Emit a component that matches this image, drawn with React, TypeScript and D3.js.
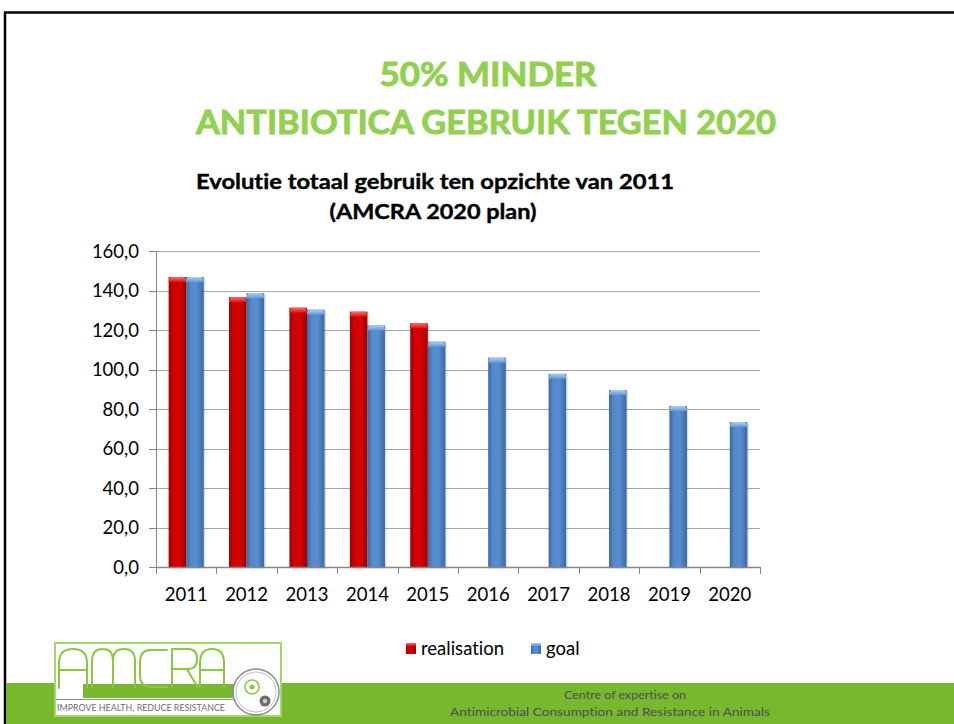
import React from "react";
import * as d3 from "d3";

const years = ["2011", "2012", "2013", "2014", "2015", "2016", "2017", "2018", "2019", "2020"];
const realisation: (number | null)[] = [146.8, 136.6, 131.3, 129.3, 123.4, null, null, null, null, null];
const goal: number[] = [146.8, 138.6, 130.3, 122.3, 114.1, 106.0, 97.8, 89.6, 81.5, 73.4];
const yTicks = [0, 20, 40, 60, 80, 100, 120, 140, 160];
const seriesNames = ["realisation", "goal"];

const W = 954;
const H = 724;
const PLOT = { left: 156, right: 760, top: 251, bottom: 567 };
const GREEN_TITLE = "#92D050";
const BAND_GREEN = "#77B82F";
const LOGO_GREEN = "#8DC63F";

const fmt = (v: number) => d3.format(".1f")(v).replace(".", ",");

function Bar({ x, y, w, h, kind }: { x: number; y: number; w: number; h: number; kind: string }) {
  const cap = Math.min(5, h);
  return (
    <g>
      <rect x={x + 1.5} y={y + 1.5} width={w} height={h} fill="#000" opacity={0.12} />
      <rect x={x} y={y} width={w} height={h} fill={`url(#body-${kind})`} />
      <path
        d={`M${x},${y + cap} Q${x},${y} ${x + 3},${y} L${x + w - 3},${y} Q${x + w},${y} ${x + w},${y + cap} Z`}
        fill={`url(#cap-${kind})`}
      />
    </g>
  );
}

export default function App() {
  const x = d3.scaleBand<string>().domain(years).range([PLOT.left, PLOT.right]).paddingInner(0).paddingOuter(0);
  const x1 = d3.scaleBand<string>().domain(seriesNames).range([0, x.bandwidth()]).paddingInner(0).paddingOuter(0.72);
  const y = d3.scaleLinear().domain([0, 160]).range([PLOT.bottom, PLOT.top]);

  const bars: { key: string; x: number; y: number; w: number; h: number; kind: string }[] = [];
  years.forEach((yr, i) => {
    const r = realisation[i];
    if (r != null) {
      bars.push({ key: `r-${yr}`, x: (x(yr) as number) + (x1("realisation") as number), y: y(r), w: x1.bandwidth(), h: y(0) - y(r), kind: "red" });
    }
    const g = goal[i];
    bars.push({ key: `g-${yr}`, x: (x(yr) as number) + (x1("goal") as number), y: y(g), w: x1.bandwidth(), h: y(0) - y(g), kind: "blue" });
  });

  const boundaries = [...years.map((yr) => x(yr) as number), PLOT.right];

  return (
    <svg width={W} height={H} style={{ position: "absolute", left: 0, top: 0, background: "#fff", fontVariantLigatures: "none" }} fontFamily="Lato, 'Open Sans', sans-serif">
      <defs>
        <linearGradient id="body-red" x1="0" x2="1" y1="0" y2="0">
          <stop offset="0" stopColor="#9A0000" />
          <stop offset="0.25" stopColor="#D00000" />
          <stop offset="0.6" stopColor="#D80202" />
          <stop offset="1" stopColor="#9C0000" />
        </linearGradient>
        <linearGradient id="cap-red" x1="0" x2="0" y1="0" y2="1">
          <stop offset="0" stopColor="#FF6A6A" />
          <stop offset="1" stopColor="#E01010" />
        </linearGradient>
        <linearGradient id="body-blue" x1="0" x2="1" y1="0" y2="0">
          <stop offset="0" stopColor="#3A66A2" />
          <stop offset="0.25" stopColor="#5389CA" />
          <stop offset="0.6" stopColor="#588DCF" />
          <stop offset="1" stopColor="#3B68A4" />
        </linearGradient>
        <linearGradient id="cap-blue" x1="0" x2="0" y1="0" y2="1">
          <stop offset="0" stopColor="#A9CDF5" />
          <stop offset="1" stopColor="#6699D8" />
        </linearGradient>
      </defs>

      <rect x={0} y={0} width={W} height={H} fill="#fff" />

      {/* slide frame */}
      <line x1={4} x2={W} y1={12.5} y2={12.5} stroke="#000" strokeWidth={2.5} />
      <line x1={5} x2={5} y1={12} y2={H} stroke="#000" strokeWidth={2.5} />

      {/* main title */}
      <text x={488} y={86} textAnchor="middle" fontSize={32} fontWeight="bold" fill={GREEN_TITLE} stroke={GREEN_TITLE} strokeWidth={0.9} textLength={217} lengthAdjust="spacingAndGlyphs">
        50% MINDER
      </text>
      <text x={486} y={134} textAnchor="middle" fontSize={32} fontWeight="bold" fill={GREEN_TITLE} stroke={GREEN_TITLE} strokeWidth={0.9} textLength={580} lengthAdjust="spacingAndGlyphs">
        ANTIBIOTICA GEBRUIK TEGEN 2020
      </text>

      {/* chart title */}
      <text x={435} y={189} textAnchor="middle" fontSize={21} fontWeight="bold" fill="#000" stroke="#000" strokeWidth={0.4} textLength={478} lengthAdjust="spacingAndGlyphs">
        Evolutie totaal gebruik ten opzichte van 2011
      </text>
      <text x={433} y={219} textAnchor="middle" fontSize={21} fontWeight="bold" fill="#000" stroke="#000" strokeWidth={0.4} textLength={207} lengthAdjust="spacingAndGlyphs">
        (AMCRA 2020 plan)
      </text>

      {/* gridlines */}
      {yTicks.filter((t) => t > 0).map((t) => (
        <line key={`g${t}`} x1={PLOT.left} x2={PLOT.right} y1={Math.round(y(t)) + 0.5} y2={Math.round(y(t)) + 0.5} stroke="#A6A6A6" strokeWidth={1} />
      ))}

      {/* bars */}
      {bars.map((b) => (
        <Bar key={b.key} x={b.x} y={b.y} w={b.w} h={b.h} kind={b.kind} />
      ))}

      {/* y axis */}
      <line x1={PLOT.left + 0.5} x2={PLOT.left + 0.5} y1={PLOT.top} y2={PLOT.bottom} stroke="#868686" strokeWidth={1} />
      {yTicks.map((t) => (
        <g key={`yt${t}`}>
          <line x1={PLOT.left - 7} x2={PLOT.left} y1={Math.round(y(t)) + 0.5} y2={Math.round(y(t)) + 0.5} stroke="#868686" strokeWidth={1} />
          <text x={139} y={y(t)} dy="0.36em" textAnchor="end" fontSize={18.5} fill="#000">
            {fmt(t)}
          </text>
        </g>
      ))}

      {/* x axis */}
      <line x1={PLOT.left} x2={PLOT.right} y1={PLOT.bottom + 0.5} y2={PLOT.bottom + 0.5} stroke="#868686" strokeWidth={1.5} />
      {boundaries.map((bx, i) => (
        <line key={`xt${i}`} x1={Math.round(bx) + 0.5} x2={Math.round(bx) + 0.5} y1={PLOT.bottom} y2={PLOT.bottom + 7} stroke="#868686" strokeWidth={1} />
      ))}
      {years.map((yr) => (
        <text key={`xl${yr}`} x={(x(yr) as number) + x.bandwidth() / 2} y={594} dy="0.36em" textAnchor="middle" fontSize={18.5} fill="#000">
          {yr}
        </text>
      ))}

      {/* legend */}
      <rect x={406} y={643} width={10} height={11} fill="url(#body-red)" />
      <rect x={406} y={643} width={10} height={3} fill="url(#cap-red)" />
      <text x={421} y={655} fontSize={18.5} fill="#000">realisation</text>
      <rect x={531} y={643} width={10} height={11} fill="url(#body-blue)" />
      <rect x={531} y={643} width={10} height={3} fill="url(#cap-blue)" />
      <text x={546} y={655} fontSize={18.5} fill="#000">goal</text>

      {/* footer band */}
      <rect x={6} y={683} width={W - 6} height={H - 683} fill={BAND_GREEN} />
      <text x={625} y={699} textAnchor="middle" fontSize={11} fill="#4D4D4D" textLength={122} lengthAdjust="spacingAndGlyphs">
        Centre of expertise on
      </text>
      <text x={610} y={716} textAnchor="middle" fontSize={11} fill="#4D4D4D" textLength={320} lengthAdjust="spacingAndGlyphs">
        Antimicrobial Consumption and Resistance in Animals
      </text>

      {/* logo */}
      <g>
        <rect x={55} y={643} width={226} height={73} fill="#fff" stroke="#A4D46C" strokeWidth={2} />
        <rect x={83} y={684} width={154} height={14} fill={BAND_GREEN} />
        <g fill="none" stroke={LOGO_GREEN} strokeWidth={2} strokeLinecap="round" strokeLinejoin="round">
          <path d="M59,688 L59,663 Q59,649 73,649 Q87,649 87,663 L87,688 M59,670 L87,670" />
          <path d="M92,688 L92,661 Q92,649 103,649 Q113,649 113,661 L113,688 M113,661 Q113,649 124,649 Q135,649 135,661 L135,688" />
          <path d="M167,650 L151,650 Q140,650 140,662 L140,675 Q140,687 151,687 L167,687" />
          <path d="M172,688 L172,649 L188,649 Q197,649 197,659 Q197,669 188,669 L172,669 M187,669 L198,688" />
          <path d="M200,688 L200,663 Q200,649 212,649 Q224,649 224,663 L224,688 M200,670 L224,670" />
        </g>
        <rect x={56} y={699} width={180} height={16} fill="#fff" />
        <line x1={56} x2={236} y1={699.5} y2={699.5} stroke="#8C8C8C" strokeWidth={1} />
        <text x={57} y={711} fontSize={9} fill="#6E6E6E" textLength={168} lengthAdjust="spacingAndGlyphs">
          IMPROVE HEALTH, REDUCE RESISTANCE
        </text>
        <circle cx={256} cy={692} r={23} fill="#fff" stroke="#8C8C8C" strokeWidth={1.5} />
        <circle cx={256} cy={692} r={20} fill="none" stroke="#BDBDBD" strokeWidth={1} />
        <circle cx={252} cy={687} r={7} fill="#fff" stroke={LOGO_GREEN} strokeWidth={1.6} />
        <circle cx={252} cy={687} r={2.5} fill={LOGO_GREEN} />
        <circle cx={265} cy={701} r={5.5} fill="#6B6B6B" />
        <circle cx={265} cy={701} r={2.2} fill="#D0D0D0" />
      </g>
    </svg>
  );
}
